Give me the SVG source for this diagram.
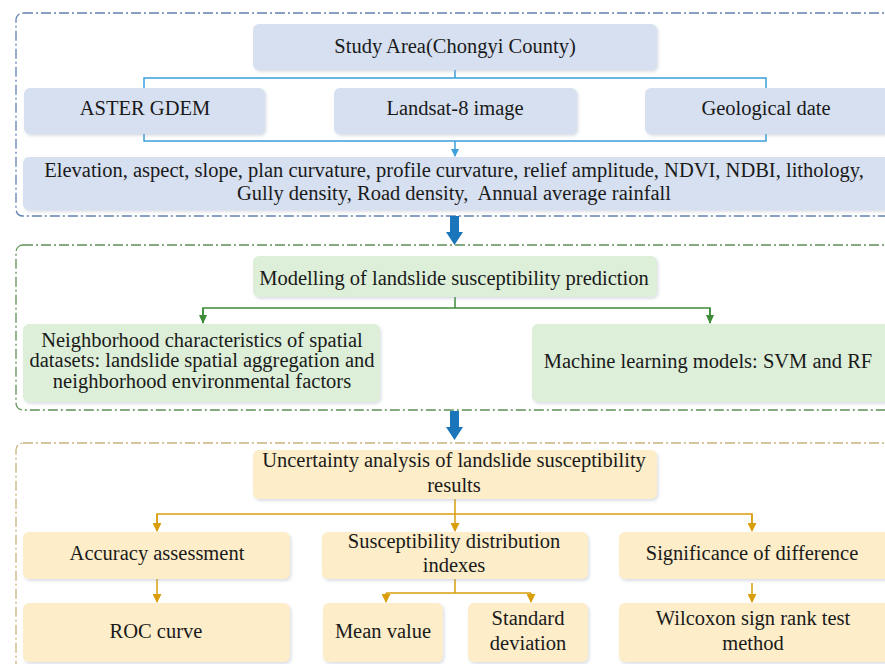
<svg xmlns="http://www.w3.org/2000/svg" width="885" height="664" viewBox="0 0 885 664">
<defs>
<filter id="sh" x="-5%" y="-10%" width="115%" height="130%">
<feDropShadow dx="1.5" dy="2" stdDeviation="1.5" flood-color="#9aa6b8" flood-opacity="0.35"/>
</filter>
<marker id="ab" markerWidth="8" markerHeight="8" refX="4" refY="7" markerUnits="userSpaceOnUse" viewBox="0 0 8 8"><path d="M0,0 L8,0 L4,8 Z" fill="#3d9fdc"/></marker>
<marker id="ag" markerWidth="8" markerHeight="9" refX="4" refY="8" markerUnits="userSpaceOnUse" viewBox="0 0 8 9"><path d="M0,0 L8,0 L4,9 Z" fill="#3d8b37"/></marker>
<marker id="ay" markerWidth="9" markerHeight="9" refX="4.5" refY="8" markerUnits="userSpaceOnUse" viewBox="0 0 9 9"><path d="M0,0 L9,0 L4.5,9 Z" fill="#d99e0b"/></marker>
</defs>
<style>
.t{font-size:20.5px;fill:#1a1a1a;text-anchor:middle;white-space:pre}
.panel{fill:none;stroke-width:1.3;stroke-dasharray:10 3 2 3}
.p1{stroke:#6282b0}
.p2{stroke:#5f8f55}
.p3{stroke:#c8b27e}
.bb{fill:#d6e0f0;filter:url(#sh)}
.gb{fill:#ddefd9;filter:url(#sh)}
.yb{fill:#fdedc9;filter:url(#sh)}
.cb{fill:none;stroke:#3d9fdc;stroke-width:1.5}
.cg{fill:none;stroke:#3d8b37;stroke-width:1.5}
.cy{fill:none;stroke:#d99e0b;stroke-width:1.5}
.big{fill:#1b75bb}
</style>
<rect class="panel p1" x="16" y="13" width="890" height="203" rx="7"/>
<rect class="panel p2" x="16" y="245" width="890" height="165" rx="7"/>
<rect class="panel p3" x="16" y="443" width="890" height="240" rx="7"/>
<g id="connectors">
<path class="cb" d="M455,70 V78 M144,88 V78 H766 V88"/>
<path class="cb" d="M144,134 V141 H766 V134"/>
<path class="cb" d="M455,141 V156" marker-end="url(#ab)"/>
<path class="big" d="M450,216 H459 V232 H463 L454.5,245 L446,232 H450 Z"/>
<path class="cg" d="M455,297 V308 M203,323 V308 H710 V323"/>
<path class="cg" d="M203,308 V323" marker-end="url(#ag)"/>
<path class="cg" d="M710,308 V323" marker-end="url(#ag)"/>
<path class="big" d="M450,411 H459 V427 H463 L454.5,440 L446,427 H450 Z"/>
<path class="cy" d="M455,499 V514 M157,531 V514 H752 V531"/>
<path class="cy" d="M157,514 V531" marker-end="url(#ay)"/>
<path class="cy" d="M455,514 V531" marker-end="url(#ay)"/>
<path class="cy" d="M752,514 V531" marker-end="url(#ay)"/>
<path class="cy" d="M157,579 V602" marker-end="url(#ay)"/>
<path class="cy" d="M455,579 V593 H386 M455,593 H531"/>
<path class="cy" d="M386,593 V602" marker-end="url(#ay)"/>
<path class="cy" d="M531,593 V602" marker-end="url(#ay)"/>
<path class="cy" d="M752,583 V602" marker-end="url(#ay)"/>
</g>
<g id="study-area"><rect class="bb" x="253" y="24" width="404" height="46" rx="6"/><text class="t" font-family="Liberation Serif" x="455" y="53">Study Area(Chongyi County)</text></g>
<g id="aster"><rect class="bb" x="24" y="88" width="241" height="46" rx="6"/><text class="t" font-family="Liberation Serif" x="145" y="115">ASTER GDEM</text></g>
<g id="landsat"><rect class="bb" x="334" y="88" width="243" height="46" rx="6"/><text class="t" font-family="Liberation Serif" x="455" y="115">Landsat-8 image</text></g>
<g id="geological"><rect class="bb" x="645" y="88" width="250" height="46" rx="6"/><text class="t" font-family="Liberation Serif" x="766" y="115">Geological date</text></g>
<g id="factors"><rect class="bb" x="23" y="157" width="872" height="53" rx="6"/><text class="t" font-family="Liberation Serif" x="454" y="177">Elevation, aspect, slope, plan curvature, profile curvature, relief amplitude, NDVI, NDBI, lithology,</text><text class="t" font-family="Liberation Serif" x="454" y="200">Gully density, Road density,  Annual average rainfall</text></g>
<g id="modelling"><rect class="gb" x="253" y="256" width="404" height="41" rx="6"/><text class="t" font-family="Liberation Serif" x="454" y="285">Modelling of landslide susceptibility prediction</text></g>
<g id="neighborhood"><rect class="gb" x="23" y="324" width="357" height="78" rx="6"/><text class="t" font-family="Liberation Serif" x="202" y="347">Neighborhood characteristics of spatial</text><text class="t" font-family="Liberation Serif" x="202" y="367">datasets: landslide spatial aggregation and</text><text class="t" font-family="Liberation Serif" x="202" y="388">neighborhood environmental factors</text></g>
<g id="ml"><rect class="gb" x="532" y="324" width="363" height="78" rx="6"/><text class="t" font-family="Liberation Serif" x="708" y="368">Machine learning models: SVM and RF</text></g>
<g id="uncertainty"><rect class="yb" x="253" y="450" width="404" height="49" rx="6"/><text class="t" font-family="Liberation Serif" x="454" y="467">Uncertainty analysis of landslide susceptibility</text><text class="t" font-family="Liberation Serif" x="454" y="492">results</text></g>
<g id="accuracy"><rect class="yb" x="23" y="532" width="267" height="47" rx="6"/><text class="t" font-family="Liberation Serif" x="157" y="560">Accuracy assessment</text></g>
<g id="distribution"><rect class="yb" x="322" y="532" width="266" height="47" rx="6"/><text class="t" font-family="Liberation Serif" x="454" y="548">Susceptibility distribution</text><text class="t" font-family="Liberation Serif" x="454" y="572">indexes</text></g>
<g id="significance"><rect class="yb" x="619" y="532" width="276" height="47" rx="6"/><text class="t" font-family="Liberation Serif" x="752" y="560">Significance of difference</text></g>
<g id="roc"><rect class="yb" x="23" y="603" width="267" height="59" rx="6"/><text class="t" font-family="Liberation Serif" x="156" y="638">ROC curve</text></g>
<g id="mean"><rect class="yb" x="323" y="603" width="120" height="59" rx="6"/><text class="t" font-family="Liberation Serif" x="383" y="638">Mean value</text></g>
<g id="std"><rect class="yb" x="468" y="603" width="120" height="59" rx="6"/><text class="t" font-family="Liberation Serif" x="528" y="625">Standard</text><text class="t" font-family="Liberation Serif" x="528" y="650">deviation</text></g>
<g id="wilcoxon"><rect class="yb" x="619" y="603" width="276" height="59" rx="6"/><text class="t" font-family="Liberation Serif" x="753" y="625">Wilcoxon sign rank test</text><text class="t" font-family="Liberation Serif" x="753" y="650">method</text></g>
</svg>
